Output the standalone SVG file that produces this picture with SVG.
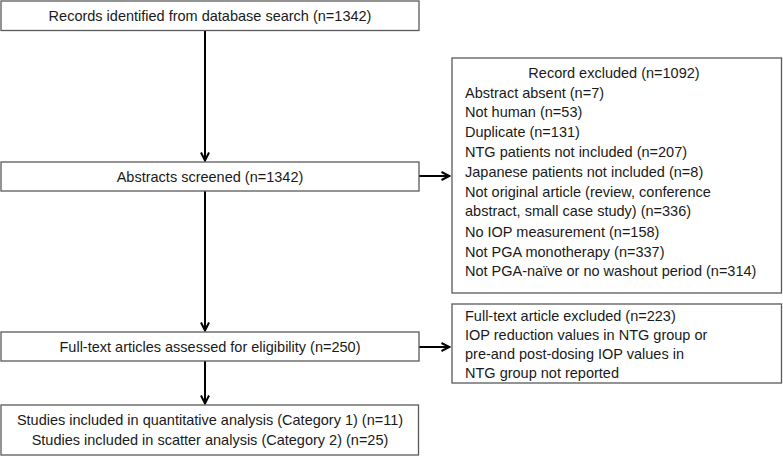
<svg xmlns="http://www.w3.org/2000/svg" width="783" height="456" viewBox="0 0 783 456">
<defs>
<style>
.box{fill:#fff;stroke:#5a5a5a;stroke-width:1.3}
.t{font-family:"Liberation Sans",Arial,sans-serif;font-size:14.5px;fill:#1a1a1a}
.c{text-anchor:middle}
.ln{stroke:#000;stroke-width:2;fill:none}
</style>
<marker id="ah" viewBox="0 0 10 10" refX="9.5" refY="5" markerWidth="10" markerHeight="10" markerUnits="userSpaceOnUse" orient="auto">
<path d="M1,1 L9,5 L1,9" fill="none" stroke="#000" stroke-width="2"/>
</marker>
</defs>
<rect width="783" height="456" fill="#fff"/>
<g id="connectors">
<line class="ln" x1="205" y1="31" x2="205" y2="161" marker-end="url(#ah)"/>
<line class="ln" x1="205" y1="191" x2="205" y2="331" marker-end="url(#ah)"/>
<line class="ln" x1="205" y1="361" x2="205" y2="404" marker-end="url(#ah)"/>
<line class="ln" x1="419" y1="176" x2="450" y2="176" marker-end="url(#ah)"/>
<line class="ln" x1="419" y1="347" x2="450" y2="347" marker-end="url(#ah)"/>
</g>
<g id="records">
<rect class="box" x="1" y="1" width="418" height="29.5"/>
<text class="t c" x="210" y="21">Records identified from database search (n=1342)</text>
</g>
<g id="screened">
<rect class="box" x="1" y="162" width="418" height="29"/>
<text class="t c" x="210" y="182">Abstracts screened (n=1342)</text>
</g>
<g id="excluded1">
<rect class="box" x="452" y="58" width="329.5" height="235"/>
<text class="t c" x="614" y="78">Record excluded (n=1092)</text>
<text class="t" x="465" y="98">Abstract absent (n=7)</text>
<text class="t" x="465" y="117">Not human (n=53)</text>
<text class="t" x="465" y="137">Duplicate (n=131)</text>
<text class="t" x="465" y="157">NTG patients not included (n=207)</text>
<text class="t" x="465" y="177">Japanese patients not included (n=8)</text>
<text class="t" x="465" y="197">Not original article (review, conference</text>
<text class="t" x="465" y="216">abstract, small case study) (n=336)</text>
<text class="t" x="465" y="237">No IOP measurement (n=158)</text>
<text class="t" x="465" y="257">Not PGA monotherapy (n=337)</text>
<text class="t" x="465" y="276">Not PGA-naïve or no washout period (n=314)</text>
</g>
<g id="fulltext">
<rect class="box" x="1" y="332" width="418" height="29"/>
<text class="t c" x="210" y="352">Full-text articles assessed for eligibility (n=250)</text>
</g>
<g id="excluded2">
<rect class="box" x="452" y="304" width="329.5" height="79"/>
<text class="t" x="465" y="321">Full-text article excluded (n=223)</text>
<text class="t" x="465" y="340">IOP reduction values in NTG group or</text>
<text class="t" x="465" y="359">pre-and post-dosing IOP values in</text>
<text class="t" x="465" y="378">NTG group not reported</text>
</g>
<g id="included">
<rect class="box" x="1" y="405" width="417.5" height="50"/>
<text class="t c" x="210" y="425">Studies included in quantitative analysis (Category 1) (n=11)</text>
<text class="t c" x="210" y="445">Studies included in scatter analysis (Category 2) (n=25)</text>
</g>
</svg>
